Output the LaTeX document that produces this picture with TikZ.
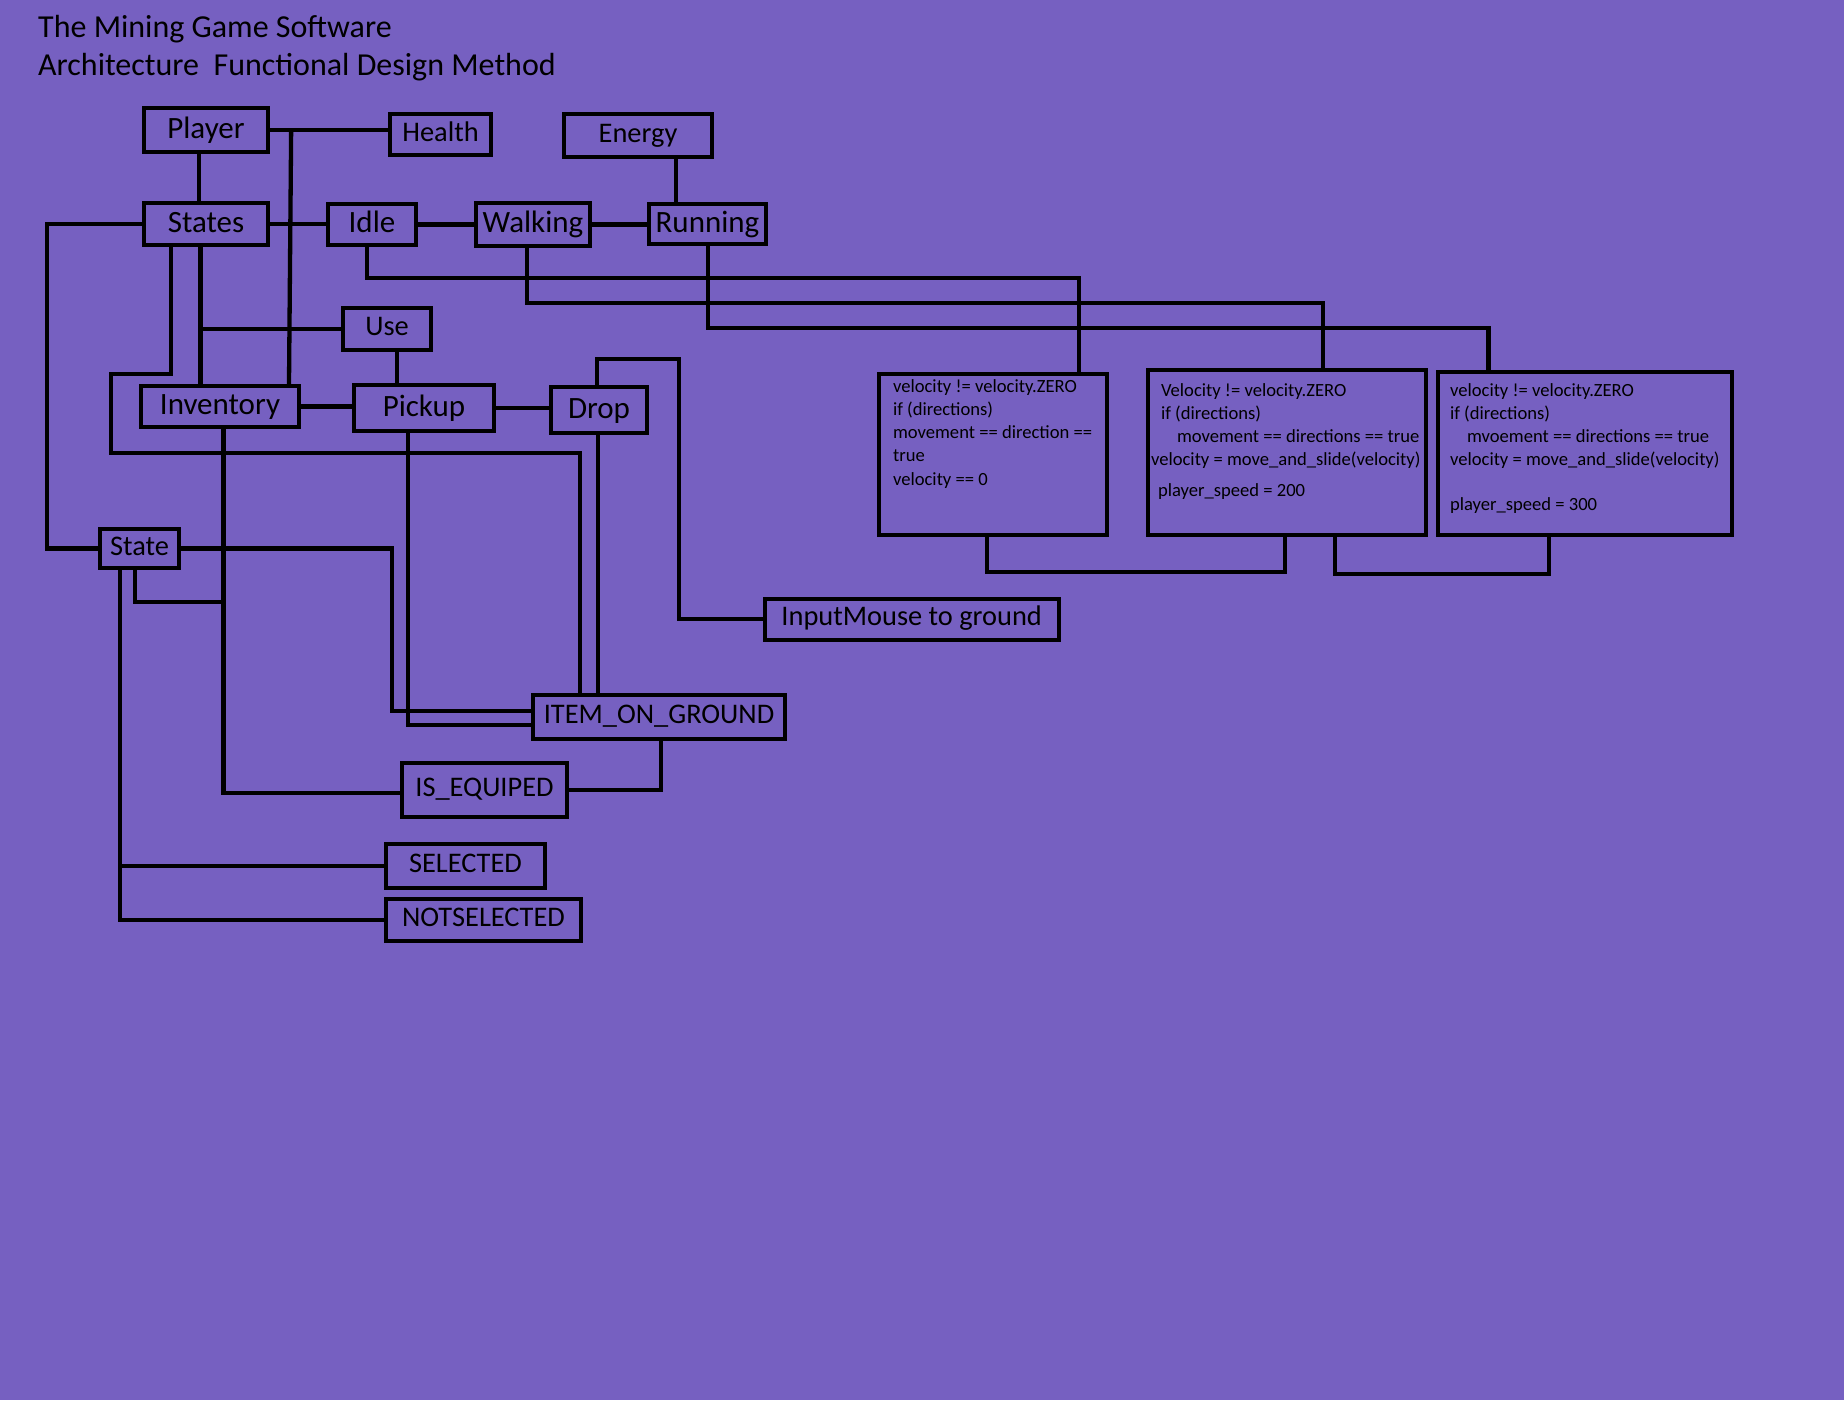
\documentclass[tikz,border=0pt]{standalone}
\usepackage{fontspec}
\setmainfont{Carlito}
\usetikzlibrary{calc,positioning}
\definecolor{bgpurple}{RGB}{118,96,193}
\tikzset{
  block/.style={rectangle, draw=black, line width=4.3pt, inner sep=0pt, text height=20pt, text depth=4pt, font=\fontsize{31}{37}\selectfont},
  smallblock/.style={block, text height=18.3pt, text depth=5.1pt, font=\fontsize{28.4}{34}\selectfont},
  codebox/.style={rectangle, draw=black, line width=4.3pt, inner sep=0pt},
  codetext/.style={inner sep=0pt, align=left, anchor=north west, font=\fontsize{18.6}{23.3}\selectfont},
  heading/.style={inner sep=0pt, anchor=base west, font=\fontsize{32}{38}\selectfont},
  link/.style={line width=4.3pt}
}
\newcommand{\topline}{\rule{0pt}{14pt}}

\begin{document}
\begin{tikzpicture}[x=1pt,y=-1pt]
  \fill[bgpurple] (0,0) rectangle (1844,1400);
  \useasboundingbox (0,0) rectangle (1844,1400);

  \node[heading] (title) at (38,37) {The Mining Game Software};
  \node[heading] (subtitle) at (38,75) {Architecture~~Functional Design Method};

  % player and states
  \node[block, minimum width=124pt, minimum height=44pt] (player) at (206,130) {Player};
  \node[smallblock, minimum width=101pt, minimum height=41pt] (health) at (440.5,134.5) {Health};
  \node[smallblock, minimum width=148pt, minimum height=43pt] (energy) at (638,135.5) {Energy};
  \node[block, minimum width=124pt, minimum height=42pt] (states) at (206,224) {States};
  \node[block, minimum width=88pt, minimum height=41pt] (idle) at (372,224.5) {Idle};
  \node[block, minimum width=114pt, minimum height=43pt] (walking) at (533,224.5) {Walking};
  \node[block, minimum width=117pt, minimum height=40pt] (running) at (707.5,224) {Running};

  % items
  \node[smallblock, minimum width=88pt, minimum height=42pt] (use) at (387,329) {Use};
  \node[block, minimum width=158pt, minimum height=41pt] (inventory) at (220,406.5) {Inventory};
  \node[block, minimum width=140pt, minimum height=46pt] (pickup) at (424,408) {Pickup};
  \node[block, minimum width=96pt, minimum height=46pt] (drop) at (599,410) {Drop};
  \node[smallblock, minimum width=79pt, minimum height=39pt] (state) at (139.5,548.5) {State};
  \node[smallblock, minimum width=294pt, minimum height=41pt] (mouse) at (911.7,619.3) {InputMouse to ground};
  \node[smallblock, minimum width=252pt, minimum height=44pt] (item) at (659,717) {ITEM\_ON\_GROUND};
  \node[smallblock, minimum width=165pt, minimum height=54pt] (equip) at (484.5,790) {IS\_EQUIPED};
  \node[smallblock, minimum width=159pt, minimum height=44pt] (selected) at (465.5,866) {SELECTED};
  \node[smallblock, minimum width=195pt, minimum height=42pt] (notsel) at (483.5,920) {NOTSELECTED};

  % movement code
  \node[codebox, minimum width=228pt, minimum height=161pt] (code1) at (993,454.5) {};
  \node[codebox, minimum width=278pt, minimum height=165pt] (code2) at (1287,452.5) {};
  \node[codebox, minimum width=294pt, minimum height=163pt] (code3) at (1585,453.5) {};
  \node[codetext] (code1txt) at ($(code1.north west)+(16,6)$) {\topline velocity != velocity.ZERO\\ if (directions)\\ movement == direction ==\\ true\\ velocity == 0};
  \node[codetext] (code2txt) at ($(code2.north west)+(5,14)$) {\topline\hspace*{10pt}Velocity != velocity.ZERO\\ \hspace*{10pt}if (directions)\\ \hspace*{26pt}movement == directions == true\\ velocity = move\_and\_slide(velocity)\\[7.5pt] \hspace*{7pt}player\_speed = 200};
  \node[codetext] (code3txt) at ($(code3.north west)+(14,12)$) {\topline velocity != velocity.ZERO\\ if (directions)\\ \hspace*{17pt}mvoement == directions == true\\ velocity = move\_and\_slide(velocity)\\[21.5pt] player\_speed = 300};

  \coordinate (sx) at ($(inventory.north)+(-19.5,0)$);
  \coordinate (usex) at ($(use.south)+(10,0)$);
  \coordinate (dropx) at ($(drop.south)+(-1,0)$);
  \coordinate (sv) at ($(state.south)+(-19.5,0)$);

  \draw[link] (player.east) -- (player.east -| health.west);
  \draw[link] ($(player.east)+(21,0)$) -- ($(inventory.north)+(69,0)$);
  \draw[link] ($(health.east)+(0,-2.5)$) -- ($(health.east)+(0,-2.5)$ -| energy.west);
  \draw[link] ($(energy.south)+(38,0)$) -- ($(running.north)+(-31.5,0)$);
  \draw[link] ($(player.south)+(-7,0)$) -- ($(states.north)+(-7,0)$);
  \draw[link] (states.east) -- (states.east -| idle.west);
  \draw[link] (idle.east) -- (idle.east -| walking.west);
  \draw[link] (walking.east) -- (walking.east -| running.west);
  \draw[link] (states.west) -- ++(-95,0) |- (state.west);
  \draw[link] ($(states.south)+(-35,0)$) -- ++(0,127) -| ++(-60,79) -| ($(item.north)+(-79,0)$);
  \draw[link] (states.south -| sx) -- (sx);
  \draw[link] (use.west) -- (use.west -| sx);
  \draw[link] (usex) -- (usex |- pickup.north);
  \draw[link] (inventory.east) -- (inventory.east -| pickup.west);
  \draw[link] (pickup.east) -- (pickup.east -| drop.west);
  \draw[link] ($(drop.north)+(-2,0)$) |- ++(82,-26) |- (mouse.west);
  \draw[link] (dropx) -- (dropx |- item.north);
  \draw[link] ($(inventory.south)+(3.5,0)$) |- ($(equip.west)+(0,3)$);
  \draw[link] ($(state.south)+(-4.5,0)$) |- ++(88.5,32);
  \draw[link] (state.east) -- ++(211,0) |- ($(item.west)+(0,-6)$);
  \draw[link] ($(pickup.south)+(-16,0)$) |- ($(item.west)+(0,8)$);
  \draw[link] ($(item.south)+(2,0)$) |- (equip.east);
  \draw[link] (sv) |- (notsel.west);
  \draw[link] (selected.west) -- (selected.west -| sv);

  % states to code
  \draw[link] ($(idle.south)+(-5,0)$) -- ++(0,31) -| ($(code1.north)+(86,0)$);
  \draw[link] ($(walking.south)+(-6,0)$) -- ++(0,55) -| ($(code2.north)+(36,0)$);
  \draw[link] ($(running.south)+(0.5,0)$) -- ++(0,82) -| ($(code3.north)+(-96.5,0)$);
  \draw[link] ($(code1.south)+(-6,0)$) -- ++(0,35) -| ($(code2.south)+(-2,0)$);
  \draw[link] ($(code2.south)+(48,0)$) -- ++(0,37) -| ($(code3.south)+(-36,0)$);
\end{tikzpicture}
\end{document}
